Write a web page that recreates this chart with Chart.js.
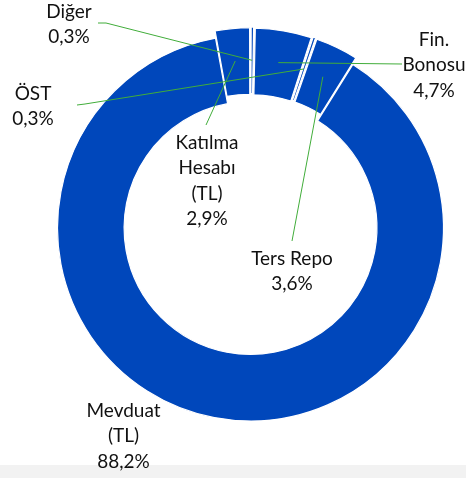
<!DOCTYPE html>
<html>
<head>
<meta charset="utf-8">
<script src="https://cdn.jsdelivr.net/npm/chart.js@4"></script>
<style>
  html, body { margin: 0; padding: 0; background: #fff; }
  #wrap { position: relative; width: 466px; height: 478px; overflow: hidden; }
  #strip { position: absolute; left: 0; right: 0; top: 465px; bottom: 0; background: #f2f2f2; }
  #pie { position: absolute; left: 0; top: 0; }
</style>
</head>
<body>
<div id="wrap">
  <div id="strip"></div>
  <canvas id="pie" width="466" height="478"></canvas>
</div>
<script>
const categories = [['Diğer'], ['Fin.', 'Bonosu'], ['ÖST'], ['Ters Repo'], ['Mevduat', '(TL)'], ['Katılma', 'Hesabı', '(TL)']];
const shares = [0.3, 4.7, 0.3, 3.6, 88.2, 2.9];
const pulled = [16, 16, 16, 16, 0, 16];

// where each data label sits, and where its leader line starts
const labelSpots = [
  { x: 69, y: 18, lead: [[98, 23], [106, 23]] },
  { x: 434, y: 46, lead: [[402, 64]] },
  { x: 33, y: 100, lead: [[77, 105], [85, 104]] },
  { x: 292, y: 265, lead: [[292, 241]] },
  { x: 123.5, y: 417, lead: null },
  { x: 207, y: 149, lead: [[206, 125]] },
];

const fmt = v => v.toFixed(1).replace('.', ',') + '%';

const dataLabels = {
  id: 'dataLabels',
  afterDatasetsDraw(chart) {
    const ctx = chart.ctx;
    const meta = chart.getDatasetMeta(0);
    ctx.save();
    meta.data.forEach((arc, i) => {
      const spot = labelSpots[i];
      if (!spot.lead) return;
      const p = arc.getProps(['x', 'y', 'startAngle', 'endAngle', 'innerRadius', 'outerRadius'], true);
      const mid = (p.startAngle + p.endAngle) / 2;
      const r = (p.innerRadius + p.outerRadius) / 2 + pulled[i] / 2;
      ctx.beginPath();
      ctx.moveTo(spot.lead[0][0], spot.lead[0][1]);
      for (let k = 1; k < spot.lead.length; k++) ctx.lineTo(spot.lead[k][0], spot.lead[k][1]);
      ctx.lineTo(p.x + Math.cos(mid) * r, p.y + Math.sin(mid) * r);
      ctx.strokeStyle = '#41ad3a';
      ctx.lineWidth = 1;
      ctx.stroke();
    });
    ctx.font = '19px Lato';
    ctx.fillStyle = '#111';
    ctx.textAlign = 'center';
    ctx.textBaseline = 'alphabetic';
    categories.forEach((lines, i) => {
      const spot = labelSpots[i];
      const rows = lines.concat([fmt(shares[i])]);
      rows.forEach((t, k) => ctx.fillText(t, spot.x, spot.y + k * 25.3));
    });
    ctx.restore();
  }
};

new Chart(document.getElementById('pie'), {
  type: 'doughnut',
  data: {
    labels: categories,
    datasets: [{
      data: shares,
      backgroundColor: '#0047bb',
      borderColor: '#fff',
      borderWidth: 1.2,
      offset: pulled,
      hoverOffset: 0,
    }],
  },
  options: {
    responsive: false,
    animation: false,
    events: [],
    rotation: 0,
    radius: 193,
    cutout: '65.5%',
    layout: { padding: { left: 35, right: 0, top: 0, bottom: 22 } },
    plugins: {
      legend: { display: false },
      tooltip: { enabled: false },
    },
  },
  plugins: [dataLabels],
});
</script>
</body>
</html>
